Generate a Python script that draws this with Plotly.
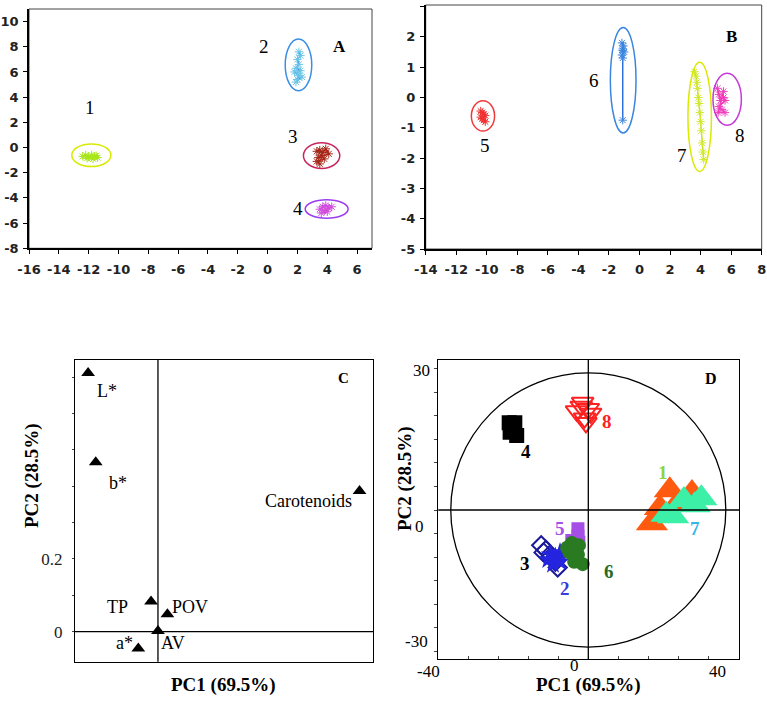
import plotly.graph_objects as go

W, H = 767, 712

# ---- panel A: score clusters (PC1 vs PC2)
a1_x = [-12.4, -12.2, -12.0, -11.8, -11.6, -11.4, -12.1, -11.7, -11.5]
a1_y = [-0.7, -0.6, -0.75, -0.6, -0.7, -0.8, -0.85, -0.9, -0.65]
a2_x = [2.1, 2.2, 2.0, 2.1, 1.9, 2.2, 2.0, 1.8, 2.1, 2.0, 2.3, 1.9]
a2_y = [7.6, 7.3, 7.0, 6.6, 6.3, 6.1, 5.9, 6.0, 5.7, 5.4, 5.6, 5.2]
a3_x = [3.3, 3.5, 3.7, 3.9, 4.1, 3.4, 3.6, 3.8, 3.3, 3.5]
a3_y = [-0.3, -0.2, -0.4, -0.1, -0.5, -0.8, -0.6, -0.9, -1.1, -1.3]
a4_x = [3.5, 3.7, 3.9, 4.1, 4.3, 3.8, 4.0, 3.6]
a4_y = [-4.9, -4.7, -4.6, -4.8, -4.7, -5.0, -5.1, -5.2]

# ---- panel B
b5_x = [-10.4, -10.3, -10.2, -10.1, -10.3, -10.2, -10.4, -10.1]
b5_y = [-0.45, -0.5, -0.55, -0.6, -0.7, -0.75, -0.65, -0.8]
b6_x = [-1.15, -1.05, -1.1, -1.0, -1.15, -1.1, -1.1, -1.1]
b6_y = [1.8, 1.7, 1.6, 1.5, 1.4, 1.3, 1.55, -0.75]
b7_x = [3.6, 3.7, 3.75, 3.8, 3.85, 3.9, 3.95, 4.0, 4.05, 4.1, 4.15, 4.2]
b7_y = [0.85, 0.7, 0.5, 0.3, 0.0, -0.2, -0.5, -0.8, -1.1, -1.5, -1.8, -2.05]
b8_x = [5.1, 5.2, 5.3, 5.5, 5.6, 5.2, 5.4, 5.6, 5.15, 5.5]
b8_y = [0.3, 0.1, -0.1, 0.0, -0.1, -0.3, -0.4, -0.5, -0.5, 0.2]

# confidence ellipses (centre x, centre y, half width, half height)
ell_a = [(-11.82, -0.61, 1.31, 0.9), (2.07, 6.56, 0.89, 2.05),
         (3.62, -0.64, 1.22, 1.02), (3.96, -4.88, 1.44, 0.73)]
ell_b = [(-10.25, -0.61, 0.76, 0.5), (-1.07, 0.57, 0.84, 1.74),
         (3.94, -0.64, 0.77, 1.8), (5.74, -0.06, 0.93, 0.86)]
ell_a_col = ["#d8ea00", "#3a8ee6", "#c8245a", "#9b3cf0"]
ell_b_col = ["#f03a3a", "#3a86e0", "#dbe800", "#c53ad8"]

a_xticks = list(range(-16, 7, 2))
a_yticks = list(range(-8, 11, 2))
b_xticks = list(range(-14, 9, 2))
b_yticks = list(range(-5, 4, 1))

# ---- panel C: loadings
c_names = ["L*", "b*", "Carotenoids", "TP", "POV", "AV", "a*"]
c_x = [-0.192, -0.171, 0.554, -0.019, 0.026, 0.0, -0.054]
c_y = [0.711, 0.466, 0.387, 0.083, 0.048, 0.002, -0.046]

# ---- panel D: scores of samples 1-8
d1_x = [17.3, 22.0, 15.2, 13.5, 19.0]
d1_y = [4.2, 3.6, 0.4, -2.8, 1.5]
d7_x = [16.6, 20.3, 22.6, 18.0, 24.0]
d7_y = [-1.0, 2.1, 1.0, -1.3, 2.5]
d4_x = [-16.8, -15.6, -16.6, -15.2, -16.2]
d4_y = [18.5, 18.5, 16.5, 15.8, 17.5]
d8_x = [-1.5, 0.0, -2.5, -0.8, 0.5, -1.2, -0.5]
d8_y = [22.0, 21.5, 21.0, 19.5, 20.5, 22.8, 18.5]
d5_x = [-2.2, -2.2, -3.5, -2.0]
d5_y = [-4.0, -5.5, -6.5, -6.8]
d3_x = [-10.0, -9.0, -8.0, -7.0, -6.5, -9.5]
d3_y = [-7.5, -8.5, -10.0, -11.0, -12.2, -9.0]
d2_x = [-8.0, -7.0, -6.0, -7.5, -6.0, -8.5]
d2_y = [-9.5, -10.0, -9.0, -11.5, -11.0, -10.5]
d6_x = [-3.5, -2.0, -4.0, -2.2, -3.0, -1.2, -4.5]
d6_y = [-7.0, -7.5, -9.0, -9.5, -11.0, -11.5, -8.0]

SERIF = "Liberation Serif"
SANS = "DejaVu Sans"


def px(x):
    return x / W


def py(y):
    return 1 - y / H


fig = go.Figure()


def cluster(x, y, line_col, mark_col, xa, ya):
    fig.add_trace(go.Scatter(
        x=x, y=y, mode="lines+markers", xaxis=xa, yaxis=ya,
        line=dict(color=line_col, width=1.5),
        marker=dict(symbol="asterisk-open", size=7, color=mark_col,
                    line=dict(color=mark_col, width=1)),
        showlegend=False))


cluster(a1_x, a1_y, "#9ee000", "#a8e61a", "x", "y")
cluster(a2_x, a2_y, "#2a6fe0", "#6cc6e8", "x", "y")
cluster(a3_x, a3_y, "#e01010", "#a02818", "x", "y")
cluster(a4_x, a4_y, "#ff2a9a", "#d050e0", "x", "y")
cluster(b5_x, b5_y, "#e82020", "#f03030", "x2", "y2")
cluster(b6_x, b6_y, "#2a6fe0", "#3a86e0", "x2", "y2")
cluster(b7_x, b7_y, "#c8e020", "#d0e830", "x2", "y2")
cluster(b8_x, b8_y, "#ff2aa0", "#f040c0", "x2", "y2")

shapes = []
for (cx, cy, a, b), col in zip(ell_a, ell_a_col):
    shapes.append(dict(type="circle", xref="x", yref="y", x0=cx - a, x1=cx + a,
                       y0=cy - b, y1=cy + b, line=dict(color=col, width=1.5)))
for (cx, cy, a, b), col in zip(ell_b, ell_b_col):
    shapes.append(dict(type="circle", xref="x2", yref="y2", x0=cx - a, x1=cx + a,
                       y0=cy - b, y1=cy + b, line=dict(color=col, width=1.5)))
# thin frame round A and B
for xr, yr in (("x domain", "y domain"), ("x2 domain", "y2 domain")):
    shapes.append(dict(type="rect", xref=xr, yref=yr, x0=0, x1=1, y0=0, y1=1,
                       line=dict(color="#444", width=1), layer="below"))

# panel C loadings
fig.add_trace(go.Scatter(
    x=c_x, y=c_y, mode="markers", xaxis="x3", yaxis="y3",
    marker=dict(symbol="triangle-up", size=12, color="black"), showlegend=False))


# panel D scores
def dtrace(x, y, symbol, size, color, lw=0, lc=None):
    fig.add_trace(go.Scatter(
        x=x, y=y, mode="markers", xaxis="x4", yaxis="y4", showlegend=False,
        marker=dict(symbol=symbol, size=size, color=color,
                    line=dict(width=lw, color=lc or color))))


dtrace(d1_x, d1_y, "triangle-up", 28, "#ff5a10")
dtrace(d7_x, d7_y, "triangle-up", 28, "#3cf0a8")
dtrace(d4_x, d4_y, "square", 15, "black")
dtrace(d8_x, d8_y, "triangle-down-open", 19, "#ff2020", 2, "#ff2020")
dtrace(d5_x, d5_y, "square", 13, "#a64fe6")
dtrace(d3_x, d3_y, "diamond-open", 14, "#1a1a9a", 2, "#1a1a9a")
dtrace(d2_x, d2_y, "star", 15, "#2525e0")
dtrace(d6_x, d6_y, "circle", 14, "#2a7a22")

# reference lines and circle
shapes += [
    dict(type="line", xref="x3", yref="y3 domain", x0=0, x1=0, y0=0, y1=1,
         line=dict(color="black", width=1.3)),
    dict(type="line", xref="x3 domain", yref="y3", x0=0, x1=1, y0=0, y1=0,
         line=dict(color="black", width=1.3)),
    dict(type="line", xref="x4", yref="y4 domain", x0=0, x1=0, y0=0, y1=1,
         line=dict(color="black", width=1.3)),
    dict(type="line", xref="x4 domain", yref="y4", x0=0, x1=1, y0=0, y1=0,
         line=dict(color="black", width=1.3)),
    dict(type="circle", xref="x4", yref="y4", x0=-29.2, x1=29.2, y0=-29.1, y1=29.1,
         line=dict(color="black", width=1.3)),
]

sans_tick = dict(family=SANS, size=13, color="#222", weight="bold")
ab_axis = dict(showline=True, linecolor="black", linewidth=1.6, ticks="outside",
               ticklen=4, tickcolor="black", showgrid=False, zeroline=False,
               tickfont=sans_tick, mirror=False, automargin=False)
box_axis = dict(showline=True, linecolor="black", linewidth=1.3, mirror=True,
                showgrid=False, zeroline=False, automargin=False)

fig.update_layout(
    width=W, height=H, margin=dict(l=0, r=0, t=0, b=0),
    plot_bgcolor="white", paper_bgcolor="white",
    xaxis=dict(ab_axis, domain=[px(29), px(372)], range=[-16, 7],
               tickvals=a_xticks, ticktext=[str(v) for v in a_xticks],
               anchor="y", ticklabelstandoff=4),
    yaxis=dict(ab_axis, domain=[py(248.3), py(9)], range=[-8, 11],
               tickvals=a_yticks, ticktext=[str(v) for v in a_yticks],
               anchor="x", ticklabelstandoff=2),
    xaxis2=dict(ab_axis, domain=[px(425.7), px(761.7)], range=[-14, 8],
                tickvals=b_xticks, ticktext=[str(v) for v in b_xticks],
                anchor="y2", ticklabelstandoff=4),
    yaxis2=dict(ab_axis, domain=[py(249), py(5)], range=[-5, 3.05],
                tickvals=b_yticks, ticktext=[str(v) for v in b_yticks],
                anchor="x2", ticklabelstandoff=2),
    xaxis3=dict(box_axis, domain=[px(75), px(373)], range=[-0.228, 0.591],
                showticklabels=False, anchor="y3"),
    yaxis3=dict(box_axis, domain=[py(661.7), py(360)], range=[-0.0825, 0.747],
                tickvals=[0, 0.2], ticktext=["0", "0.2"], ticks="outside",
                ticklen=2, tickfont=dict(family=SERIF, size=17, color="#222"),
                ticklabelstandoff=6, anchor="x3",
                minor=dict(dtick=0.1, ticks="outside", ticklen=2)),
    xaxis4=dict(box_axis, domain=[px(438.3), px(739)], range=[-31.85, 32.0],
                showticklabels=False, ticks="inside", ticklen=3, tick0=0,
                dtick=6.37, anchor="y4"),
    yaxis4=dict(box_axis, domain=[py(659.3), py(360)], range=[-31.7, 31.85],
                showticklabels=False, ticks="outside", ticklen=3, tick0=0,
                dtick=5, anchor="x4"),
    shapes=shapes,
)

ann = []


def label(x, y, text, size, color="black", bold=False, ref=("paper", "paper"),
          family=SERIF, angle=0, xanchor="center"):
    ann.append(dict(x=x, y=y, xref=ref[0], yref=ref[1], text=text, showarrow=False,
                    textangle=angle, xanchor=xanchor,
                    font=dict(family=family, size=size, color=color,
                              weight="bold" if bold else "normal")))


# panel A / B cluster numbers
for x, y, t in [(-11.9, 3.2, "1"), (-0.22, 8.0, "2"), (1.69, 0.87, "3"), (2.07, -4.88, "4")]:
    label(x, y, t, 19, ref=("x", "y"))
label(4.84, 8.0, "A", 17, bold=True, ref=("x", "y"))
for x, y, t in [(-10.14, -1.6, "5"), (-3.0, 0.57, "6"), (2.8, -1.91, "7"), (6.57, -1.25, "8")]:
    label(x, y, t, 19, ref=("x2", "y2"))
label(6.02, 2.0, "B", 17, bold=True, ref=("x2", "y2"))

# panel C labels
for x, y, t in [(-0.141, 0.662, "L*"), (-0.110, 0.41, "b*"), (0.415, 0.358, "Carotenoids"),
                (-0.110, 0.068, "TP"), (0.088, 0.068, "POV"), (0.041, -0.032, "AV"),
                (-0.091, -0.032, "a*")]:
    label(x, y, t, 18, ref=("x3", "y3"))
label(0.51, 0.697, "C", 15, bold=True, ref=("x3", "y3"))

# panel D labels
for x, y, t, c in [(15.8, 7.9, "1", "#8ed43a"), (-4.9, -16.6, "2", "#3a3adf"),
                   (-13.4, -11.3, "3", "black"), (-13.3, 12.4, "4", "black"),
                   (-6.0, -3.9, "5", "#a64fe6"), (4.5, -13.1, "6", "#2a6a22"),
                   (22.7, -3.9, "7", "#33b5e5"), (3.9, 18.7, "8", "#ff2020")]:
    label(x, y, t, 19, color=c, bold=True, ref=("x4", "y4"))
label(26.0, 28.0, "D", 16, bold=True, ref=("x4", "y4"))

# D tick labels (as printed in the original)
label(px(421.7), py(370.7), "30", 17)
label(px(419.3), py(538.3), "0", 17)
label(px(416.7), py(653.3), "-30", 17)
label(px(428), py(682.7), "-40", 17)
label(px(574), py(676.7), "0", 17)
label(px(717), py(682.7), "40", 17)

# axis titles
for cx in (223, 588):
    label(px(cx), py(698), "PC1 (69.5%)", 19, bold=True)
label(px(32), py(530), "PC2 (28.5%)", 19, bold=True, angle=-90)
label(px(405), py(533), "PC2 (28.5%)", 19, bold=True, angle=-90)

fig.update_layout(annotations=ann)

# drop the browser's default body margin so the figure sits at the page corner
fig.write_html("out.html", config={"displayModeBar": False},
               post_script="document.body.style.margin='0';document.body.style.overflow='hidden';")
